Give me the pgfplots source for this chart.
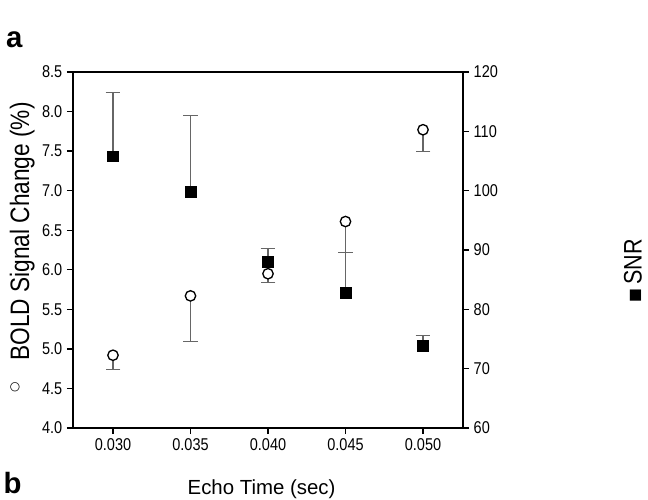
\documentclass[border=0pt]{standalone}
\usepackage{fontspec}
\setmainfont{Liberation Sans}
\newfontfamily\narrowfont[FakeStretch=0.85]{Liberation Sans}
\newfontfamily\symfont{DejaVu Sans}
\usepackage{pgfplots}
\pgfplotsset{compat=1.18}
\begin{document}
\begin{tikzpicture}
\pgfplotsset{
  every axis/.append style={
    scale only axis, width=292.5pt, height=267pt,
    xmin=0.02742, xmax=0.05258,
    tick align=outside, major tick length=4.5pt,
    axis line style={line width=1pt},
    every tick/.style={line width=1pt, black},
    tick label style={font=\narrowfont\fontsize{12.8}{14}\selectfont},
    /pgf/number format/assume math mode=true,
  },
}
\begin{axis}[
  at={(0,0)}, anchor=south west,
  ymin=4, ymax=8.5,
  xtick={0.030,0.035,0.040,0.045,0.050},
  xticklabels={0.030,0.035,0.040,0.045,0.050},
  ytick={4,4.5,5,5.5,6,6.5,7,7.5,8,8.5},
  yticklabels={4.0,4.5,5.0,5.5,6.0,6.5,7.0,7.5,8.0,8.5},
  xtick pos=bottom, ytick pos=left,
  scaled x ticks=false,
]
\addplot[only marks, mark=*, mark size=3.9pt,
  mark options={fill=white, draw=black, line width=1pt},
  error bars/.cd, y dir=minus, y explicit,
  error bar style={black!60, line width=0.8pt},
  error mark options={black!60, line width=0.8pt, mark size=5.6pt, rotate=90}]
  table[x=x, y=y, y error=e] {
x      y     e
0.030  4.92  0.175
0.035  5.67  0.58
0.040  5.95  0.11
0.045  6.61  0.39
0.050  7.77  0.28
};
\end{axis}
\begin{axis}[
  at={(0,0)}, anchor=south west,
  ymin=60, ymax=120,
  ytick={60,70,80,90,100,110,120},
  axis y line*=right, axis x line=none,
]
\addplot[only marks, mark=square*, mark size=4.1pt,
  mark options={fill=black, draw=black},
  error bars/.cd, y dir=plus, y explicit,
  error bar style={black!60, line width=0.8pt},
  error mark options={black!60, line width=0.8pt, mark size=5.6pt, rotate=90}]
  table[x=x, y=y, y error=e] {
x      y      e
0.030  105.8  10.8
0.035  99.8   12.9
0.040  88.0   2.2
0.045  82.8   6.8
0.050  73.8   1.8
};
\end{axis}
\node[font=\bfseries\fontsize{22}{24}\selectfont] at (-44pt,291pt) {a};
\node[font=\bfseries\fontsize{22}{24}\selectfont] at (-45.4pt,-41.5pt) {b};
\node[font=\fontsize{15.3}{17}\selectfont, anchor=base] at (141.4pt,-49.5pt) {Echo Time (sec)};
\node[font=\narrowfont\fontsize{20}{22}\selectfont, rotate=90, anchor=base] at (-33pt,147.4pt) {BOLD Signal Change (\%)};
\node[font=\symfont\fontsize{9}{10}\selectfont, rotate=90] at (-43.5pt,30.75pt) {○};
\node[font=\narrowfont\fontsize{19}{21}\selectfont, rotate=90, anchor=base] at (426.5pt,124.5pt) {SNR};
\node[font=\symfont\fontsize{11}{12}\selectfont, rotate=90] at (422pt,99pt) {■};
\pgfresetboundingbox
\path[use as bounding box] (-54.75pt,-53.25pt) rectangle (431.25pt,321pt);
\end{tikzpicture}
\end{document}
